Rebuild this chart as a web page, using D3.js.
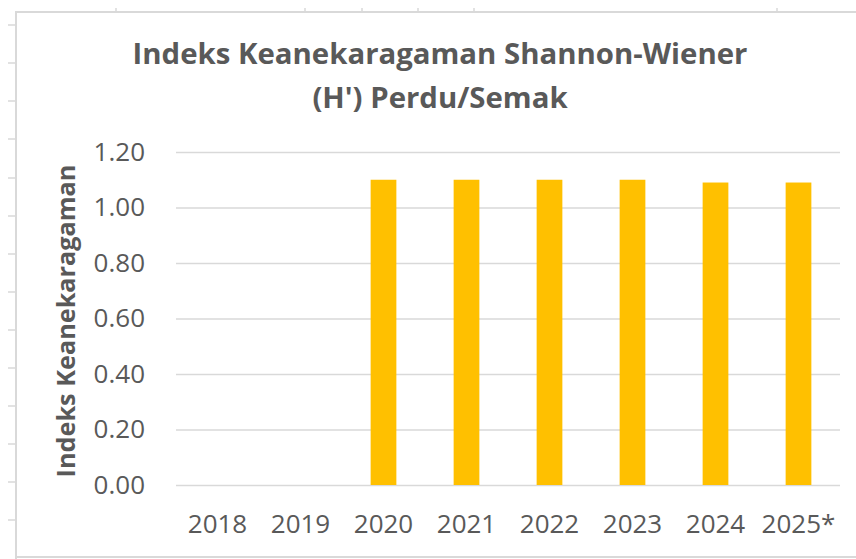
<!DOCTYPE html>
<html><head><meta charset="utf-8">
<script src="https://cdn.jsdelivr.net/npm/d3@7"></script>
<style>body{margin:0;background:#fff}svg{display:block}</style>
</head><body>
<script>
const categories = ["2018","2019","2020","2021","2022","2023","2024","2025*"];
const values = [null, null, 1.10, 1.10, 1.10, 1.10, 1.09, 1.09];
const yTicks = [0, 0.2, 0.4, 0.6, 0.8, 1.0, 1.2];
const titleLines = ["Indeks Keanekaragaman Shannon-Wiener", "(H') Perdu/Semak"];
const yTitle = "Indeks Keanekaragaman";

const W = 856, H = 559;
const svg = d3.select("body").append("svg").attr("width", W).attr("height", H);
const font = "'Open Sans', 'Liberation Sans', sans-serif";
const textCol = "#595959";

// spreadsheet frame
const frame = svg.append("g").attr("stroke", "#d9d9d9").attr("fill", "none");
frame.append("path").attr("d", `M16,${H} V12 H${W}`).attr("stroke-width", 2);
frame.append("line").attr("x1", 16).attr("x2", W).attr("y1", 557).attr("y2", 557).attr("stroke-width", 2);
[25,63,101,139,178,216,254,292,330,368,406,444,482,520].forEach(y =>
  frame.append("line").attr("x1", 8).attr("x2", 16).attr("y1", y).attr("y2", y).attr("stroke-width", 1.5));
[116,305,362,418,474,777].forEach(x =>
  frame.append("line").attr("x1", x).attr("x2", x).attr("y1", 8).attr("y2", 12).attr("stroke-width", 1.5));

const x = d3.scaleBand().domain(categories).range([176, 840]).paddingInner(0.69).paddingOuter(0.345);
const y = d3.scaleLinear().domain([0, 1.2]).range([485, 152]);

// gridlines
const yAxis = d3.axisLeft(y).tickValues(yTicks).tickFormat(d3.format(".2f")).tickSize(-(840-176)).tickPadding(31);
const gy = svg.append("g").attr("transform", "translate(176,0)").call(yAxis);
gy.select(".domain").remove();
gy.selectAll(".tick line").attr("stroke", "#d9d9d9").attr("stroke-width", 1.5);
gy.selectAll(".tick text").attr("fill", textCol).style("font-family", font).style("font-size", "26px");

// bars
svg.append("g").selectAll("rect")
  .data(categories.map((c, i) => ({c, v: values[i]})).filter(d => d.v != null))
  .join("rect")
  .attr("x", d => x(d.c)).attr("width", x.bandwidth())
  .attr("y", d => y(d.v)).attr("height", d => y(0) - y(d.v))
  .attr("fill", "#ffc000");

// x axis labels
const xAxis = d3.axisBottom(x).tickSize(0).tickPadding(30);
const gx = svg.append("g").attr("transform", "translate(0,485)").call(xAxis);
gx.select(".domain").remove();
gx.selectAll(".tick text").attr("fill", textCol).style("font-family", font).style("font-size", "26px");

// title
const tg = svg.append("g");
titleLines.forEach((t, i) => {
  tg.append("text").attr("x", 440).attr("y", 64 + i * 44).attr("text-anchor", "middle")
    .attr("fill", textCol).style("font-family", font).style("font-weight", "bold").style("font-size", "24px")
    .text(t);
});
const t0 = tg.select("text").node();
const w0 = t0.getComputedTextLength();
tg.selectAll("text").style("font-size", (24 * 615 / w0) + "px");

// y title
const yt = svg.append("text").attr("transform", "translate(75,321) rotate(-90)").attr("text-anchor", "middle")
  .attr("fill", textCol).style("font-family", font).style("font-weight", "bold").style("font-size", "20px")
  .text(yTitle);
const wy = yt.node().getComputedTextLength();
yt.style("font-size", (20 * 313 / wy) + "px");
</script>
</body></html>
